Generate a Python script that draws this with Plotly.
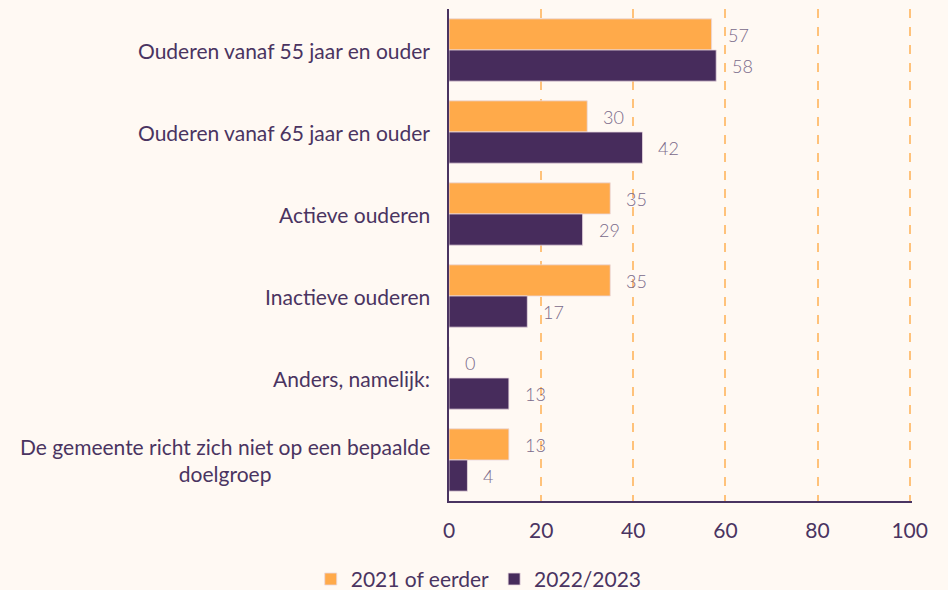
import plotly.graph_objects as go

categories = [
    "Ouderen vanaf 55 jaar en ouder",
    "Ouderen vanaf 65 jaar en ouder",
    "Actieve ouderen",
    "Inactieve ouderen",
    "Anders, namelijk:",
    "De gemeente richt zich niet op een bepaalde<br>doelgroep",
]
series_names = ["2021 of eerder", "2022/2023"]
values_2021 = [57, 30, 35, 35, 0, 13]
values_2022 = [58, 42, 29, 17, 13, 4]
x_ticks = [0, 20, 40, 60, 80, 100]

ORANGE = "#FFAA4A"
PURPLE = "#472C5C"
BG = "#FFF9F3"
TEXT = "#4A3461"
LABEL = "#7A6A8A"
GRID = "#FFC27A"
FONT = "Lato, 'Open Sans', sans-serif"

fig = go.Figure()
for name, vals, col in [(series_names[0], values_2021, ORANGE), (series_names[1], values_2022, PURPLE)]:
    fig.add_trace(go.Bar(
        name=name, y=categories, x=vals, orientation="h",
        marker=dict(color=col, line=dict(color="#E8D8E0", width=0.8)),
    ))

annotations = []
for i, cat in enumerate(categories):
    annotations.append(dict(
        x=0, xref="paper", y=cat, yref="y", xanchor="right", yanchor="middle",
        text=cat, showarrow=False, align="center", xshift=-17,
        font=dict(family=FONT, size=21, color=TEXT),
    ))
for vals, off in [(values_2021, -15.5), (values_2022, 15.5)]:
    for cat, v in zip(categories, vals):
        annotations.append(dict(
            x=v, xref="x", y=cat, yref="y", xanchor="left", yanchor="middle",
            text=str(v), showarrow=False, xshift=14, yshift=-off,
            font=dict(family=FONT, size=18, color=LABEL, weight=300),
        ))

fig.update_layout(
    width=948, height=590,
    paper_bgcolor=BG, plot_bgcolor=BG,
    barmode="group", bargap=0.24, bargroupgap=0,
    margin=dict(l=449, r=36, t=9, b=89),
    font=dict(family=FONT, size=21, color=TEXT),
    showlegend=True,
    legend=dict(orientation="h", x=0.505, xanchor="center", xref="container",
                y=0.018, yanchor="middle", yref="container",
                font=dict(family=FONT, size=21, color=TEXT), traceorder="normal",
                itemwidth=30, bgcolor="rgba(0,0,0,0)"),
    annotations=annotations,
    xaxis=dict(range=[0, 100.5], tickvals=x_ticks, showgrid=True, gridcolor=GRID,
               griddash="dash", gridwidth=1.5, zeroline=False, showline=True,
               linecolor=TEXT, linewidth=2, ticks="", ticklabelstandoff=10,
               tickfont=dict(family=FONT, size=21, color=TEXT)),
    yaxis=dict(autorange="reversed", showticklabels=False, showgrid=False, zeroline=False,
               showline=True, linecolor=TEXT, linewidth=2, ticks=""),
)
fig.update_xaxes(automargin=False)
fig.update_yaxes(automargin=False)
fig.write_html("out.html", config={"displayModeBar": False})

with open("out.html", "r", encoding="utf-8") as f:
    html = f.read()
html = html.replace("<head>", "<head><style>html,body{margin:0;padding:0;overflow:hidden;background:%s}</style>" % BG, 1)
with open("out.html", "w", encoding="utf-8") as f:
    f.write(html)
